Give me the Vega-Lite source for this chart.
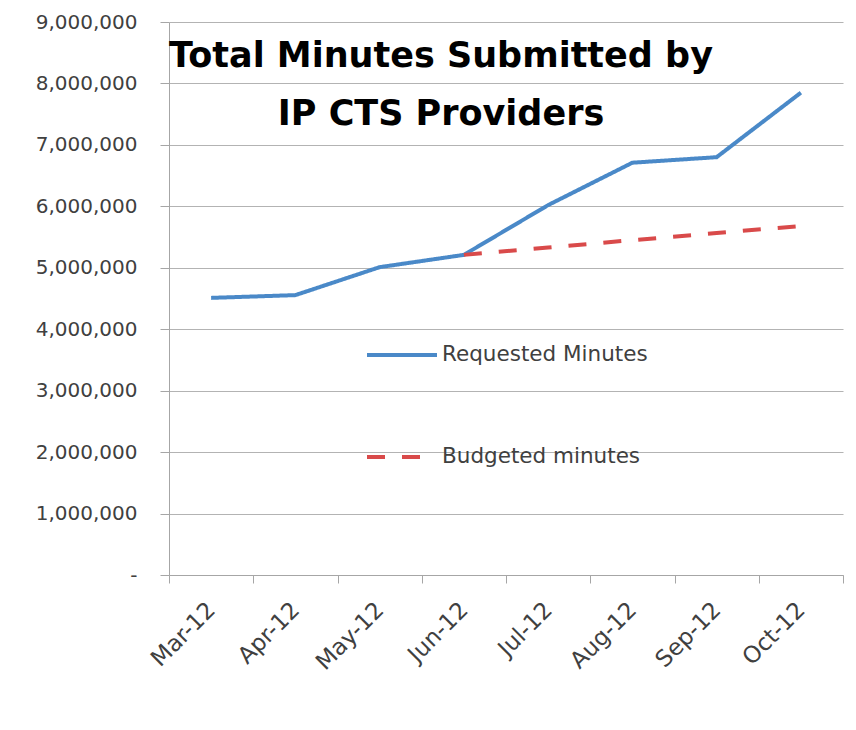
{
  "$schema": "https://vega.github.io/schema/vega-lite/v6.json",
  "autosize": {"type": "none"},
  "padding": {"left": 169, "top": 22, "right": 13, "bottom": 155},
  "width": 674,
  "height": 553,
  "background": "white",
  "title": {
    "text": ["Total Minutes Submitted by", "IP CTS Providers"],
    "font": "DejaVu Sans",
    "fontWeight": "bold",
    "fontSize": 35,
    "color": "black",
    "anchor": "middle",
    "frame": "group",
    "baseline": "alphabetic",
    "lineHeight": 58,
    "offset": 0,
    "dx": -65,
    "dy": 148
  },
  "data": {
    "values": [
      {"month": "Mar-12", "series": "Requested Minutes", "minutes": 4510000},
      {"month": "Apr-12", "series": "Requested Minutes", "minutes": 4555000},
      {"month": "May-12", "series": "Requested Minutes", "minutes": 5010000},
      {"month": "Jun-12", "series": "Requested Minutes", "minutes": 5210000},
      {"month": "Jul-12", "series": "Requested Minutes", "minutes": 6020000},
      {"month": "Aug-12", "series": "Requested Minutes", "minutes": 6710000},
      {"month": "Sep-12", "series": "Requested Minutes", "minutes": 6800000},
      {"month": "Oct-12", "series": "Requested Minutes", "minutes": 7850000},
      {"month": "Jun-12", "series": "Budgeted minutes", "minutes": 5210000},
      {"month": "Jul-12", "series": "Budgeted minutes", "minutes": 5330000},
      {"month": "Aug-12", "series": "Budgeted minutes", "minutes": 5450000},
      {"month": "Sep-12", "series": "Budgeted minutes", "minutes": 5565000},
      {"month": "Oct-12", "series": "Budgeted minutes", "minutes": 5680000}
    ]
  },
  "mark": {"type": "line", "strokeWidth": 4, "strokeCap": "butt"},
  "encoding": {
    "x": {
      "field": "month",
      "type": "nominal",
      "sort": ["Mar-12", "Apr-12", "May-12", "Jun-12", "Jul-12", "Aug-12", "Sep-12", "Oct-12"],
      "scale": {"paddingInner": 0, "paddingOuter": 0},
      "axis": {
        "title": null,
        "labelAngle": -45,
        "labelAlign": "right",
        "labelBaseline": "middle",
        "labelFont": "DejaVu Sans",
        "labelFontSize": 23,
        "labelColor": "#404040",
        "labelPadding": 23,
        "tickBand": "extent",
        "tickSize": 8,
        "tickColor": "#a6a6a6",
        "domainColor": "#a6a6a6",
        "grid": false
      }
    },
    "y": {
      "field": "minutes",
      "type": "quantitative",
      "scale": {"domain": [0, 9000000], "nice": false},
      "axis": {
        "title": null,
        "values": [0, 1000000, 2000000, 3000000, 4000000, 5000000, 6000000, 7000000, 8000000, 9000000],
        "labelExpr": "datum.value == 0 ? '-' : format(datum.value, ',')",
        "labelFont": "DejaVu Sans",
        "labelFontSize": 20,
        "labelColor": "#404040",
        "labelPadding": 23,
        "tickSize": 9,
        "tickColor": "#a6a6a6",
        "domainColor": "#a6a6a6",
        "grid": true,
        "gridColor": "#b3b3b3",
        "gridWidth": 1
      }
    },
    "color": {
      "field": "series",
      "type": "nominal",
      "scale": {"domain": ["Requested Minutes", "Budgeted minutes"], "range": ["#4A89C8", "#D94A4A"]},
      "legend": {
        "title": null,
        "orient": "none",
        "legendX": 196,
        "legendY": 296,
        "direction": "vertical",
        "symbolType": "stroke",
        "symbolSize": 4900,
        "symbolStrokeWidth": 4,
        "labelFont": "DejaVu Sans",
        "labelFontSize": 21.5,
        "labelColor": "#404040",
        "labelOffset": 3,
        "labelLimit": 400,
        "rowPadding": 54,
        "padding": 0
      }
    },
    "strokeDash": {
      "field": "series",
      "type": "nominal",
      "scale": {"domain": ["Requested Minutes", "Budgeted minutes"], "range": [[1, 0], [18, 17]]},
      "legend": null
    }
  },
  "config": {"view": {"stroke": null}}
}
